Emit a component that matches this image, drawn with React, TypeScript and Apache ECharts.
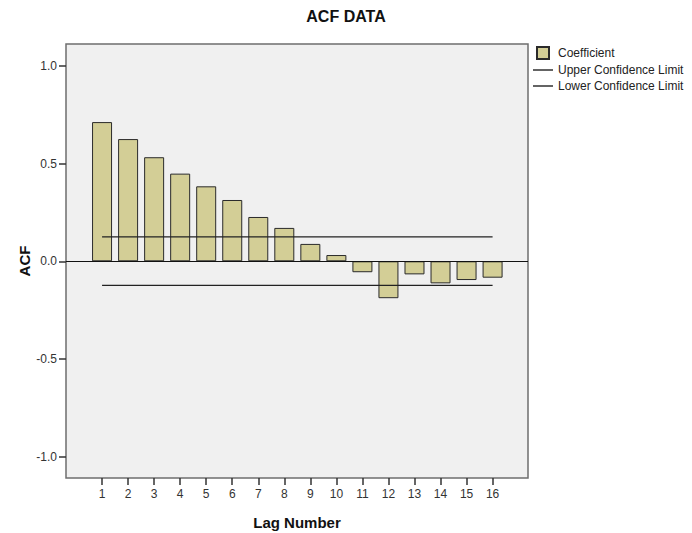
import React, { useEffect, useRef } from "react";
import * as echarts from "echarts";

const lags = [1, 2, 3, 4, 5, 6, 7, 8, 9, 10, 11, 12, 13, 14, 15, 16];
const coefficient = [0.713, 0.626, 0.533, 0.449, 0.384, 0.314, 0.227, 0.171, 0.089, 0.032, -0.056, -0.189, -0.067, -0.113, -0.096, -0.084];
const upperLimit = [0.125, 0.125, 0.125, 0.125, 0.125, 0.125, 0.125, 0.125, 0.125, 0.125, 0.125, 0.125, 0.125, 0.125, 0.125, 0.125];
const lowerLimit = [-0.123, -0.123, -0.123, -0.123, -0.123, -0.123, -0.123, -0.123, -0.123, -0.123, -0.123, -0.123, -0.123, -0.123, -0.123, -0.123];
const yTicks = [-1, -0.5, 0, 0.5, 1];

const FONT = "'Liberation Sans', Arial, sans-serif";
const LINE_ICON = "path://M0,0H20V1.4H0Z";

export default function App() {
  const ref = useRef<HTMLDivElement>(null);
  useEffect(() => {
    const chart = echarts.init(ref.current!, null, { renderer: "svg" });
    chart.setOption({
      animation: false,
      backgroundColor: "#ffffff",
      textStyle: { fontFamily: FONT },
      title: {
        text: "ACF DATA",
        left: "center",
        top: 3,
        textStyle: { fontFamily: FONT, fontSize: 16, fontWeight: "bold", color: "#111" },
      },
      legend: {
        orient: "vertical",
        left: 533,
        top: 46,
        padding: 0,
        itemWidth: 20,
        itemHeight: 12,
        itemGap: 4,
        textStyle: { fontFamily: FONT, fontSize: 12, color: "#222" },
        data: [
          { name: "Coefficient", icon: "path://M0,0H10V10H0Z" },
          { name: "Upper Confidence Limit", icon: LINE_ICON },
          { name: "Lower Confidence Limit", icon: LINE_ICON },
        ],
      },
      grid: {
        left: 66,
        right: 164,
        top: 44,
        bottom: 55,
        outerBoundsMode: "none",
        containLabel: false,
        show: true,
        backgroundColor: "#F0F0F0",
        borderColor: "#6E6E6E",
        borderWidth: 1.5,
      },
      xAxis: {
        type: "value",
        min: -0.385,
        max: 17.36,
        name: "Lag Number",
        nameLocation: "middle",
        nameGap: 37,
        nameMoveOverlap: false,
        nameTextStyle: { fontFamily: FONT, fontSize: 15, fontWeight: "bold", color: "#111" },
        axisLine: { show: false, onZero: false },
        splitLine: { show: false },
        axisTick: { show: true, length: 7, customValues: lags, lineStyle: { color: "#333", width: 1.5 } },
        axisLabel: {
          customValues: lags,
          margin: 10,
          fontSize: 12,
          color: "#333",
          fontFamily: FONT,
          formatter: (v: number) => String(Math.round(v)),
        },
      },
      yAxis: {
        type: "value",
        min: -1.11,
        max: 1.113,
        name: "ACF",
        nameLocation: "middle",
        nameRotate: 90,
        nameGap: 34,
        nameMoveOverlap: false,
        nameTextStyle: { fontFamily: FONT, fontSize: 15, fontWeight: "bold", color: "#111" },
        axisLine: { show: false, onZero: false },
        splitLine: { show: false },
        axisTick: { show: true, length: 7, customValues: yTicks, lineStyle: { color: "#333", width: 1.5 } },
        axisLabel: {
          customValues: yTicks,
          margin: 9,
          fontSize: 12,
          color: "#333",
          fontFamily: FONT,
          formatter: (v: number) => v.toFixed(1),
        },
      },
      series: [
        {
          name: "Coefficient",
          type: "bar",
          barWidth: 20,
          data: lags.map((l, i) => [l, coefficient[i]]),
          itemStyle: { color: "#D3CE96", borderColor: "#2a2a2a", borderWidth: 1 },
          markLine: {
            silent: true,
            symbol: "none",
            label: { show: false },
            lineStyle: { color: "#111", width: 1.2, type: "solid" },
            data: [{ yAxis: 0 }],
          },
        },
        {
          name: "Upper Confidence Limit",
          type: "line",
          symbol: "none",
          data: lags.map((l, i) => [l, upperLimit[i]]),
          lineStyle: { color: "#222", width: 1.3 },
          itemStyle: { color: "#222" },
        },
        {
          name: "Lower Confidence Limit",
          type: "line",
          symbol: "none",
          data: lags.map((l, i) => [l, lowerLimit[i]]),
          lineStyle: { color: "#222", width: 1.3 },
          itemStyle: { color: "#222" },
        },
      ],
    });
    return () => chart.dispose();
  }, []);
  return <div ref={ref} style={{ position: "fixed", left: 0, top: 0, width: 692, height: 533 }} />;
}
